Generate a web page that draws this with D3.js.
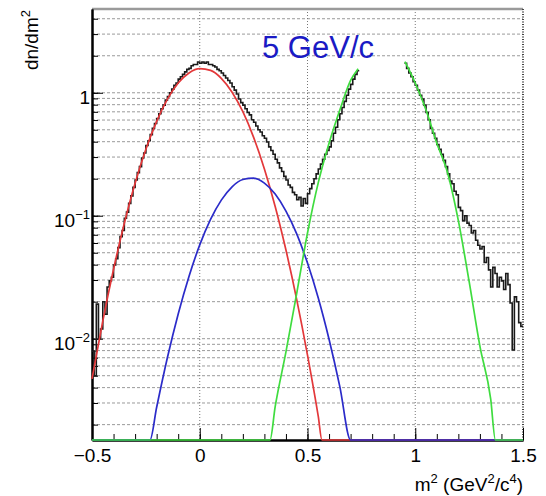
<!DOCTYPE html>
<html>
<head>
<meta charset="utf-8">
<script src="https://cdn.jsdelivr.net/npm/d3@7"></script>
<style>
    body { margin: 0; background: #fff; }
    #center { width: 546px; height: 496px; }
    text { font-family: "Liberation Sans", Arial, Helvetica, sans-serif; }
</style>
</head>
<body>
<div id="center"></div>
<script>
// measured dn/dm2, bins of 0.01 GeV2/c4 (the two visible pieces)
let binWidth = 0.01;
let histLeftStart = -0.5;
let histLeftValues = [
    0.0079, 0.0050, 0.0191, 0.0100, 0.0120, 0.0200, 0.0158, 0.0263, 0.0295, 0.0316,
    0.0398, 0.0447, 0.0550, 0.0676, 0.0759, 0.0955, 0.107, 0.126, 0.145, 0.170,
    0.195, 0.224, 0.251, 0.295, 0.324, 0.372, 0.407, 0.457, 0.513, 0.562, 0.617,
    0.676, 0.741, 0.794, 0.871, 0.933, 1.00, 1.07, 1.15, 1.20, 1.29, 1.35, 1.41,
    1.48, 1.55, 1.58, 1.66, 1.70, 1.70, 1.78, 1.74, 1.78, 1.74, 1.78, 1.70, 1.70,
    1.66, 1.62, 1.55, 1.51, 1.45, 1.38, 1.32, 1.26, 1.20, 1.12,
    1.05, 0.977, 0.891, 0.832, 0.794, 0.741, 0.692, 0.661, 0.603, 0.575, 0.537,
    0.501, 0.479, 0.447, 0.427, 0.398, 0.363, 0.339, 0.316, 0.288, 0.269, 0.245,
    0.229, 0.209, 0.195, 0.178, 0.170, 0.155, 0.148, 0.135, 0.141, 0.120, 0.138,
    0.126, 0.151, 0.166, 0.182, 0.200, 0.219, 0.240, 0.263, 0.288, 0.316, 0.339,
    0.363, 0.407, 0.468, 0.525, 0.603, 0.676, 0.759, 0.851, 0.955, 1.07, 1.17,
    1.29, 1.41, 1.51
];
let histRightStart = 0.95;
let histRightValues = [
    1.74, 1.58, 1.45, 1.35, 1.23, 1.15, 1.05, 0.955, 0.891, 0.794, 0.692, 0.603,
    0.513, 0.468, 0.427, 0.380, 0.347, 0.316, 0.282, 0.251, 0.219, 0.191, 0.182,
    0.158, 0.148, 0.117, 0.110, 0.0912, 0.100, 0.0871, 0.0832, 0.0724, 0.0759,
    0.0631, 0.0575, 0.0537, 0.0562, 0.0417, 0.0457, 0.0363, 0.0263, 0.0380, 0.0339,
    0.0263, 0.0316, 0.0295, 0.0251, 0.0339, 0.0275, 0.0195, 0.0081, 0.0219, 0.0200,
    0.0135, 0.0126
];

// fitted curves; 0.0015 = sits on the frame bottom
let redX = [-0.5, -0.45, -0.4, -0.35, -0.3, -0.25, -0.2, -0.15, -0.1, -0.05, 0, 0.05, 0.1, 0.15, 0.2, 0.25, 0.3, 0.35, 0.4, 0.45, 0.5, 0.55, 0.567, 1.5];
let redY = [0.00471, 0.0139, 0.0367, 0.0869, 0.184, 0.347, 0.586, 0.887, 1.20, 1.45, 1.57, 1.52, 1.31, 1.01, 0.701, 0.434, 0.240, 0.119, 0.0526, 0.0208, 0.00736, 0.00233, 0.0015, 0.0015];
let blueX = [-0.5, -0.231, -0.2, -0.15, -0.1, -0.05, 0, 0.05, 0.1, 0.15, 0.2, 0.25, 0.3, 0.35, 0.4, 0.45, 0.5, 0.55, 0.6, 0.65, 0.7, 1.5];
let blueY = [0.0015, 0.0015, 0.00277, 0.00703, 0.0159, 0.0321, 0.0579, 0.0933, 0.134, 0.172, 0.197, 0.202, 0.184, 0.150, 0.109, 0.0711, 0.0412, 0.0214, 0.00989, 0.00408, 0.0015, 0.0015];
let greenLeftX = [-0.5, 0.326, 0.35, 0.4, 0.45, 0.5, 0.55, 0.6, 0.65, 0.7, 0.735];
let greenLeftY = [0.0015, 0.0015, 0.0028, 0.0078, 0.0234, 0.0724, 0.186, 0.389, 0.724, 1.26, 1.57];
let greenRightX = [0.952, 1.0, 1.05, 1.1, 1.15, 1.2, 1.25, 1.3, 1.35, 1.372, 1.5];
let greenRightY = [1.79, 1.20, 0.724, 0.389, 0.224, 0.0912, 0.0292, 0.0087, 0.00324, 0.0015, 0.0015];

let xTicks = [-0.5, 0, 0.5, 1, 1.5];
let xTickLabels = ["\u22120.5", "0", "0.5", "1", "1.5"];
let yDecades = [0.01, 0.1, 1];
let yDecadeLabels = [["10", "\u22122"], ["10", "\u22121"], ["1", ""]];

let width = 546, height = 496;
let frameLeft = 92, frameRight = 523, frameTop = 9, frameBottom = 440;

const svg = d3.select("#center").append("svg")
    .attr("width", width)
    .attr("height", height)

let xlinear = d3.scaleLinear([-0.5, 1.5], [frameLeft, frameRight]);
let ylog = d3.scaleLog([0.0015, 4.8], [frameBottom, frameTop]);
let yTicks = ylog.ticks();
let xMinor = d3.range(-5, 16).map(function (i) { return i / 10; });

// grid
svg.append("g").selectAll("line")
    .data(yTicks)
    .enter()
    .append("line")
    .attr("x1", frameLeft).attr("x2", frameRight)
    .attr("y1", function (d) { return ylog(d); })
    .attr("y2", function (d) { return ylog(d); })
    .attr("stroke", "#9a9a9a")
    .attr("stroke-width", 1)
    .attr("stroke-dasharray", "3,2")
svg.append("g").selectAll("line")
    .data([0, 0.5, 1])
    .enter()
    .append("line")
    .attr("x1", function (d) { return xlinear(d); })
    .attr("x2", function (d) { return xlinear(d); })
    .attr("y1", frameTop).attr("y2", frameBottom)
    .attr("stroke", "#777")
    .attr("stroke-width", 1)
    .attr("stroke-dasharray", "1,2")

// frame top / right
svg.append("line").attr("x1", frameLeft).attr("x2", frameRight).attr("y1", frameTop).attr("y2", frameTop)
    .attr("stroke", "#9a9a9a").attr("stroke-width", 2.5)
svg.append("line").attr("x1", frameRight).attr("x2", frameRight).attr("y1", frameTop).attr("y2", frameBottom)
    .attr("stroke", "#444").attr("stroke-width", 2).attr("stroke-dasharray", "1,1.5")

// axes
function styleAxis(g) {
    g.select(".domain").attr("stroke", "#000").attr("stroke-width", 2);
    g.selectAll(".tick line").attr("stroke", "#000").attr("stroke-width", 1);
}
svg.append("g")
    .attr("transform", "translate(0," + frameBottom + ")")
    .call(d3.axisBottom(xlinear).tickValues(xMinor).tickSize(-6).tickSizeOuter(0).tickFormat(""))
    .call(styleAxis)
let xAxis = svg.append("g")
    .attr("transform", "translate(0," + frameBottom + ")")
    .call(d3.axisBottom(xlinear).tickValues(xTicks).tickSize(-12).tickSizeOuter(0).tickPadding(8.5)
        .tickFormat(function (d, i) { return xTickLabels[i]; }))
    .call(styleAxis)
xAxis.selectAll("text").attr("font-size", 19).attr("fill", "#000")
    .attr("font-family", "'Liberation Sans', Arial, sans-serif")

svg.append("g")
    .attr("transform", "translate(" + frameLeft + ",0)")
    .call(d3.axisLeft(ylog).tickValues(yTicks).tickSize(-6).tickSizeOuter(0).tickFormat(""))
    .call(styleAxis)
svg.append("g")
    .attr("transform", "translate(" + frameLeft + ",0)")
    .call(d3.axisLeft(ylog).tickValues(yDecades).tickSize(-11).tickSizeOuter(0).tickFormat(""))
    .call(styleAxis)

let ylabels = svg.append("g").selectAll("text")
    .data(yDecades)
    .enter()
    .append("text")
    .attr("x", 90)
    .attr("y", function (d) { return ylog(d) + 11; })
    .attr("text-anchor", "end")
    .attr("font-size", 19)
ylabels.append("tspan").text(function (d, i) { return yDecadeLabels[i][0]; })
ylabels.append("tspan")
    .attr("font-size", 13)
    .attr("dy", -8)
    .text(function (d, i) { return yDecadeLabels[i][1]; })

// histogram
function histPoints(start, values) {
    let pts = values.map(function (v, i) { return [start + i * binWidth, v]; });
    pts.push([start + values.length * binWidth, values[values.length - 1]]);
    return pts;
}
let stepLine = d3.line()
    .x(function (d) { return xlinear(d[0]); })
    .y(function (d) { return ylog(d[1]); })
    .curve(d3.curveStepAfter);
[histPoints(histLeftStart, histLeftValues), histPoints(histRightStart, histRightValues)].forEach(function (pts) {
    svg.append("path")
        .attr("d", stepLine(pts))
        .attr("fill", "none")
        .attr("stroke", "#1a1a1a")
        .attr("stroke-width", 1.6)
});

// fits
let fitLine = d3.line()
    .x(function (d) { return xlinear(d[0]); })
    .y(function (d) { return ylog(d[1]); })
    .curve(d3.curveMonotoneX);
function drawFit(xs, ys, color) {
    svg.append("path")
        .attr("d", fitLine(d3.zip(xs, ys)))
        .attr("fill", "none")
        .attr("stroke", color)
        .attr("stroke-width", 1.7)
}
drawFit(redX, redY, "#e3383a");
drawFit(blueX, blueY, "#2b2bc9");
drawFit(greenLeftX, greenLeftY, "#3fdc3f");
drawFit(greenRightX, greenRightY, "#3fdc3f");

// texts
svg.append("text")
    .attr("x", 262).attr("y", 58)
    .attr("font-size", 31)
    .attr("fill", "#1a1ac4")
    .text("5 GeV/c")

let ytitle = svg.append("text")
    .attr("transform", "translate(38,10) rotate(-90)")
    .attr("text-anchor", "end")
    .attr("font-size", 19)
ytitle.append("tspan").text("dn/dm")
ytitle.append("tspan").attr("font-size", 13).attr("dy", -8).text("2")

let xtitle = svg.append("text")
    .attr("x", 523).attr("y", 491)
    .attr("text-anchor", "end")
    .attr("font-size", 19)
xtitle.append("tspan").text("m")
xtitle.append("tspan").attr("font-size", 13).attr("dy", -8).text("2")
xtitle.append("tspan").attr("dy", 8).text(" (GeV")
xtitle.append("tspan").attr("font-size", 13).attr("dy", -8).text("2")
xtitle.append("tspan").attr("dy", 8).text("/c")
xtitle.append("tspan").attr("font-size", 13).attr("dy", -8).text("4")
xtitle.append("tspan").attr("dy", 8).text(")")
</script>
</body>
</html>
